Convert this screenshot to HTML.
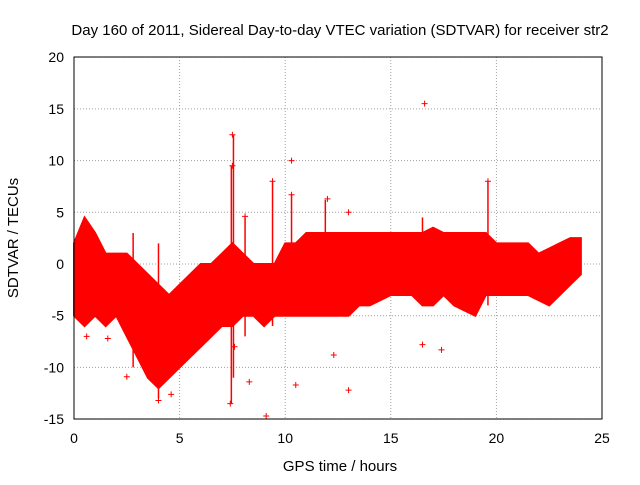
<!DOCTYPE html>
<html><head><meta charset="utf-8"><style>
body{margin:0;background:#fff;}
svg text{font-family:"Liberation Sans",sans-serif;font-size:14px;fill:#000;}
svg text.big{font-size:15px;}
</style></head><body>
<svg id="chart" width="640" height="480">
<text class="big" x="340" y="35" text-anchor="middle">Day 160 of 2011, Sidereal Day-to-day VTEC variation (SDTVAR) for receiver str2</text>
<g id="grid"></g><g id="ticks"></g><g id="marks"></g>
<rect x="74" y="57" width="528" height="362" fill="none" stroke="#000"/>
<text class="big" x="340" y="471" text-anchor="middle">GPS time / hours</text>
<text class="big" transform="translate(18,238) rotate(-90)" text-anchor="middle">SDTVAR / TECUs</text>
</svg>
<script>
const times=[0,0.5,1,1.5,2,2.5,3,3.5,4,4.5,5,5.5,6,6.5,7,7.5,8,8.5,9,9.5,10,10.5,11,11.5,12,12.5,13,13.5,14,14.5,15,15.5,16,16.5,17,17.5,18,18.5,19,19.5,20,20.5,21,21.5,22,22.5,23,23.5,24];
const upper=[2,4.5,3,1,1,1,0,-1,-2,-3,-2,-1,0,0,1,2,1,0,0,0,2,2,3,3,3,3,3,3,3,3,3,3,3,3,3.5,3,3,3,3,3,2,2,2,2,1,1.5,2,2.5,2.5];
const lower=[-5,-6,-5,-6,-5,-7,-9,-11,-12,-11,-10,-9,-8,-7,-6,-6,-5,-5,-6,-5,-5,-5,-5,-5,-5,-5,-5,-4,-4,-3.5,-3,-3,-3,-4,-4,-3,-4,-4.5,-5,-3,-3,-3,-3,-3,-3.5,-4,-3,-2,-1];
const spikeT=[7.45,7.55,8.1,10.3,11.9,16.5,19.6,9.4,2.8,4.0];
const spikeLo=[-13.5,-11,-7,-5,-4,-2,-4,-6,-10,-13];
const spikeHi=[9.5,12.5,4.5,6.7,6.2,4.5,8,8,3,2];
const outT=[7.5,16.6,10.3,9.4,7.5,12.0,10.3,19.6,8.1,13.0,16.5,17.4,12.3,13.0,10.5,8.3,9.1,7.4,4.6,2.5,1.6,0.6,7.6,4.0];
const outV=[12.5,15.5,10,8,9.5,6.3,6.7,8,4.6,5,-7.8,-8.3,-8.8,-12.2,-11.7,-11.4,-14.7,-13.5,-12.6,-10.9,-7.2,-7,-8,-13.2];
const xTicks=[0,5,10,15,20,25];
const yTicks=[-15,-10,-5,0,5,10,15,20];
const X=t=>74+t*528/25, Y=v=>264-v*362/35;
const NS="http://www.w3.org/2000/svg";
function mk(tag,attrs,parent){const e=document.createElementNS(NS,tag);for(const k in attrs)e.setAttribute(k,attrs[k]);document.getElementById(parent).appendChild(e);return e;}
xTicks.forEach(t=>{
 const g=mk('line',{x1:X(t),x2:X(t),y1:57,y2:419,stroke:'#a0a0a0','stroke-dasharray':'1,2'},'grid');
 
 
 const l=mk('text',{x:X(t),y:443,'text-anchor':'middle'},'ticks');l.textContent=t;
 
 
});
yTicks.forEach(v=>{
 const g=mk('line',{x1:74,x2:602,y1:Y(v),y2:Y(v),stroke:'#a0a0a0','stroke-dasharray':'1,2'},'grid');
 
 
 const l=mk('text',{x:64,y:Y(v)+5,'text-anchor':'end'},'ticks');l.textContent=v;
 
 
});
let pts=times.map((t,i)=>X(t)+','+Y(upper[i])).concat(times.map((t,i)=>X(t)+','+Y(lower[i])).reverse());
const band=mk('polygon',{points:pts.join(' '),fill:'#ff0000',stroke:'#ff0000','stroke-width':2},'marks');


spikeT.forEach((t,i)=>{
 const s=mk('line',{x1:X(t),x2:X(t),y1:Y(spikeLo[i]),y2:Y(spikeHi[i]),stroke:'#ff0000','stroke-width':1.5},'marks');
 
 
});
outT.forEach((t,i)=>{
 const x=X(t),y=Y(outV[i]);
 const p=mk('path',{d:`M${x-3},${y}H${x+3}M${x},${y-3}V${y+3}`,stroke:'#ff0000','stroke-width':1},'marks');
 
 
});
</script>
</body></html>
